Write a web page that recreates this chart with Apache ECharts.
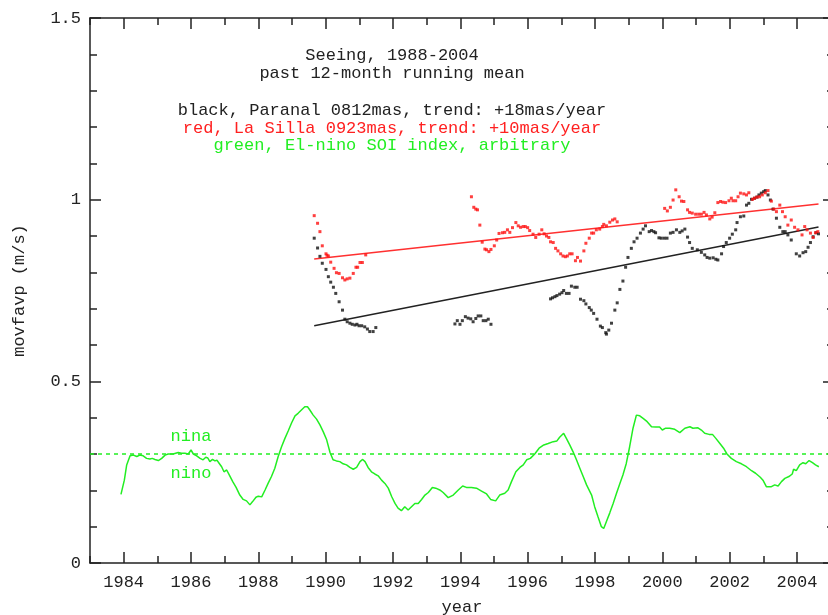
<!DOCTYPE html>
<html>
<head>
<meta charset="utf-8">
<script src="https://cdn.jsdelivr.net/npm/echarts@6/dist/echarts.min.js"></script>
<style>
  html, body { margin: 0; padding: 0; background: #fff; }
  #chart { width: 828px; height: 615px; }
</style>
</head>
<body>
<div id="chart"></div>
<script>
// Paranal seeing, past 12-month running mean [year, m/s]
const paranalSeeing = [
  [1989.66,0.894],[1989.76,0.867],[1989.83,0.844],[1989.90,0.825],[1990.01,0.808],[1990.08,0.788],
  [1990.15,0.773],[1990.23,0.759],[1990.30,0.742],[1990.40,0.719],[1990.50,0.696],[1990.57,0.671],
  [1990.64,0.664],[1990.72,0.660],[1990.79,0.657],[1990.87,0.655],[1990.93,0.657],[1990.99,0.653],
  [1991.07,0.653],[1991.16,0.650],[1991.24,0.644],[1991.31,0.637],[1991.41,0.637],[1991.49,0.648],
  [1993.84,0.658],[1993.91,0.667],[1993.99,0.657],[1994.06,0.667],[1994.15,0.678],[1994.23,0.674],
  [1994.31,0.672],[1994.38,0.664],[1994.46,0.673],[1994.53,0.680],[1994.61,0.680],[1994.68,0.667],
  [1994.76,0.667],[1994.83,0.671],[1994.91,0.657],
  [1996.68,0.727],[1996.74,0.730],[1996.81,0.733],[1996.87,0.736],[1996.95,0.740],[1997.02,0.744],
  [1997.07,0.750],[1997.15,0.742],[1997.23,0.742],[1997.30,0.762],[1997.40,0.759],[1997.47,0.759],
  [1997.57,0.726],[1997.67,0.722],[1997.73,0.713],[1997.83,0.703],[1997.89,0.696],[1997.96,0.687],
  [1998.06,0.671],[1998.16,0.652],[1998.22,0.648],[1998.32,0.634],[1998.34,0.630],[1998.41,0.641],
  [1998.49,0.660],[1998.59,0.696],[1998.66,0.716],[1998.74,0.753],[1998.83,0.776],[1998.91,0.814],
  [1998.98,0.841],[1999.08,0.866],[1999.16,0.884],[1999.25,0.894],[1999.35,0.908],[1999.43,0.919],
  [1999.50,0.928],[1999.61,0.912],[1999.68,0.915],[1999.75,0.912],[1999.80,0.909],[1999.90,0.895],
  [1999.97,0.894],[2000.06,0.894],[2000.14,0.894],[2000.24,0.908],[2000.32,0.910],[2000.42,0.917],
  [2000.52,0.910],[2000.59,0.914],[2000.67,0.919],[2000.75,0.897],[2000.81,0.882],[2000.89,0.866],
  [2001.04,0.862],[2001.16,0.855],[2001.26,0.848],[2001.33,0.841],[2001.41,0.839],[2001.51,0.840],
  [2001.59,0.836],[2001.65,0.834],[2001.76,0.851],[2001.82,0.871],[2001.90,0.882],[2002.00,0.894],
  [2002.08,0.905],[2002.18,0.917],[2002.22,0.937],[2002.32,0.953],[2002.42,0.955],[2002.50,0.985],
  [2002.57,0.990],[2002.65,1.001],[2002.74,1.004],[2002.81,1.007],[2002.87,1.013],[2002.94,1.018],
  [2003.01,1.022],[2003.06,1.025],[2003.14,1.013],[2003.21,0.999],[2003.29,0.974],[2003.39,0.949],
  [2003.49,0.924],[2003.58,0.912],[2003.65,0.912],[2003.73,0.903],[2003.83,0.889],[2003.98,0.851],
  [2004.08,0.845],[2004.18,0.854],[2004.26,0.857],[2004.33,0.869],[2004.40,0.882],[2004.48,0.898],
  [2004.57,0.909],[2004.64,0.906]
];

// La Silla seeing, past 12-month running mean [year, m/s]
const laSillaSeeing = [
  [1989.66,0.956],[1989.76,0.935],[1989.83,0.912],[1989.90,0.873],[1990.01,0.851],[1990.04,0.847],
  [1990.08,0.845],[1990.15,0.828],[1990.25,0.811],[1990.32,0.799],[1990.40,0.797],[1990.50,0.785],
  [1990.57,0.779],[1990.64,0.782],[1990.72,0.784],[1990.82,0.797],[1990.90,0.814],[1990.95,0.814],
  [1991.02,0.827],[1991.09,0.827],[1991.19,0.848],
  [1994.33,1.008],[1994.40,0.979],[1994.46,0.974],[1994.51,0.972],[1994.58,0.930],[1994.65,0.883],
  [1994.73,0.864],[1994.78,0.862],[1994.85,0.857],[1994.91,0.863],[1995.01,0.873],[1995.08,0.889],
  [1995.15,0.907],[1995.25,0.909],[1995.32,0.910],[1995.40,0.917],[1995.47,0.910],[1995.55,0.923],
  [1995.65,0.937],[1995.72,0.928],[1995.79,0.924],[1995.87,0.926],[1995.93,0.926],[1996.00,0.923],
  [1996.06,0.915],[1996.16,0.905],[1996.24,0.896],[1996.34,0.905],[1996.42,0.917],[1996.49,0.906],
  [1996.56,0.900],[1996.63,0.896],[1996.68,0.884],[1996.76,0.882],[1996.83,0.866],[1996.90,0.859],
  [1996.98,0.851],[1997.05,0.845],[1997.12,0.843],[1997.18,0.845],[1997.25,0.851],[1997.32,0.851],
  [1997.42,0.832],[1997.48,0.841],[1997.57,0.831],[1997.67,0.859],[1997.73,0.880],[1997.83,0.894],
  [1997.90,0.908],[1997.96,0.908],[1998.04,0.917],[1998.14,0.919],[1998.22,0.926],[1998.26,0.932],
  [1998.34,0.928],[1998.44,0.938],[1998.52,0.944],[1998.59,0.947],[1998.66,0.939],
  [2000.07,0.976],[2000.15,0.969],[2000.24,0.979],[2000.32,0.999],[2000.40,1.027],[2000.50,1.008],
  [2000.57,0.996],[2000.64,0.995],[2000.75,0.972],[2000.81,0.965],[2000.89,0.963],[2000.99,0.960],
  [2001.08,0.960],[2001.16,0.960],[2001.24,0.965],[2001.31,0.958],[2001.41,0.947],[2001.48,0.952],
  [2001.56,0.964],[2001.65,0.992],[2001.73,0.995],[2001.80,0.993],[2001.88,0.992],[2001.98,0.997],
  [2002.05,1.004],[2002.10,0.997],[2002.18,0.997],[2002.25,1.008],[2002.32,1.018],[2002.42,1.016],
  [2002.50,1.013],[2002.57,1.019],[2002.68,1.001],[2002.74,1.004],[2002.81,1.007],[2002.89,1.008],
  [2002.97,1.013],[2003.06,1.019],[2003.14,1.025],[2003.24,0.996],[2003.31,0.974],[2003.39,0.967],
  [2003.49,0.985],[2003.57,0.967],[2003.65,0.953],[2003.73,0.930],[2003.83,0.944],[2003.93,0.924],
  [2004.03,0.917],[2004.15,0.903],[2004.23,0.926],[2004.30,0.917],[2004.40,0.908],[2004.48,0.896],
  [2004.55,0.909],[2004.62,0.912]
];

// Linear trends over 1989.7-2004.6
const paranalTrend = [[1989.66, 0.653], [2004.64, 0.925]];
const laSillaTrend = [[1989.66, 0.837], [2004.64, 0.988]];

// El-nino SOI index, arbitrary scaling
const soiIndex = [
  [1983.92,0.189],[1984.02,0.228],[1984.09,0.270],[1984.19,0.295],[1984.29,0.297],[1984.39,0.293],
  [1984.48,0.297],[1984.58,0.295],[1984.68,0.288],[1984.78,0.286],[1984.85,0.288],[1984.93,0.285],
  [1985.03,0.282],[1985.13,0.288],[1985.23,0.297],[1985.32,0.300],[1985.47,0.300],[1985.62,0.304],
  [1985.72,0.302],[1985.82,0.302],[1985.92,0.300],[1986.00,0.311],[1986.07,0.300],[1986.17,0.295],
  [1986.27,0.288],[1986.36,0.284],[1986.44,0.291],[1986.50,0.289],[1986.56,0.279],[1986.64,0.285],
  [1986.71,0.281],[1986.77,0.283],[1986.84,0.274],[1986.91,0.265],[1986.98,0.251],[1987.06,0.256],
  [1987.14,0.242],[1987.24,0.224],[1987.34,0.208],[1987.45,0.187],[1987.55,0.175],[1987.65,0.171],
  [1987.75,0.160],[1987.83,0.169],[1987.93,0.181],[1988.00,0.184],[1988.10,0.182],[1988.20,0.201],
  [1988.29,0.219],[1988.39,0.238],[1988.49,0.261],[1988.59,0.293],[1988.69,0.320],[1988.79,0.343],
  [1988.89,0.364],[1988.99,0.386],[1989.09,0.405],[1989.18,0.412],[1989.28,0.421],[1989.38,0.430],
  [1989.46,0.430],[1989.53,0.421],[1989.63,0.407],[1989.73,0.396],[1989.83,0.380],[1989.93,0.361],
  [1990.03,0.339],[1990.13,0.304],[1990.22,0.284],[1990.32,0.281],[1990.42,0.279],[1990.52,0.273],
  [1990.62,0.270],[1990.72,0.263],[1990.82,0.258],[1990.92,0.263],[1991.02,0.279],[1991.10,0.285],
  [1991.17,0.279],[1991.26,0.263],[1991.36,0.251],[1991.46,0.245],[1991.56,0.240],[1991.66,0.228],
  [1991.76,0.219],[1991.86,0.206],[1991.96,0.183],[1992.06,0.164],[1992.15,0.151],[1992.25,0.144],
  [1992.35,0.155],[1992.45,0.146],[1992.55,0.155],[1992.65,0.164],[1992.75,0.164],[1992.85,0.175],
  [1992.95,0.187],[1993.05,0.194],[1993.17,0.208],[1993.27,0.206],[1993.39,0.201],[1993.49,0.194],
  [1993.64,0.180],[1993.79,0.187],[1993.94,0.201],[1994.07,0.212],[1994.18,0.208],[1994.33,0.208],
  [1994.48,0.206],[1994.63,0.198],[1994.78,0.190],[1994.90,0.175],[1995.05,0.171],[1995.17,0.187],
  [1995.32,0.192],[1995.42,0.201],[1995.52,0.224],[1995.65,0.251],[1995.77,0.263],[1995.87,0.270],
  [1995.97,0.284],[1996.08,0.288],[1996.21,0.300],[1996.34,0.316],[1996.48,0.325],[1996.61,0.329],
  [1996.76,0.334],[1996.87,0.336],[1996.95,0.346],[1997.07,0.357],[1997.15,0.343],[1997.25,0.325],
  [1997.35,0.306],[1997.45,0.284],[1997.55,0.261],[1997.65,0.238],[1997.75,0.215],[1997.90,0.187],
  [1997.99,0.155],[1998.09,0.127],[1998.19,0.100],[1998.26,0.095],[1998.34,0.114],[1998.44,0.138],
  [1998.54,0.164],[1998.64,0.192],[1998.74,0.219],[1998.83,0.242],[1998.93,0.274],[1999.03,0.320],
  [1999.13,0.371],[1999.23,0.407],[1999.33,0.405],[1999.43,0.398],[1999.55,0.389],[1999.68,0.375],
  [1999.81,0.374],[1999.92,0.374],[2000.00,0.366],[2000.10,0.371],[2000.22,0.371],[2000.37,0.368],
  [2000.52,0.359],[2000.67,0.371],[2000.82,0.375],[2000.91,0.371],[2001.06,0.372],[2001.16,0.366],
  [2001.26,0.357],[2001.39,0.354],[2001.49,0.354],[2001.59,0.343],[2001.71,0.329],[2001.82,0.316],
  [2001.92,0.300],[2002.05,0.288],[2002.20,0.279],[2002.35,0.273],[2002.50,0.265],[2002.65,0.254],
  [2002.77,0.247],[2002.91,0.236],[2002.99,0.228],[2003.09,0.210],[2003.24,0.210],[2003.34,0.215],
  [2003.44,0.212],[2003.54,0.224],[2003.64,0.233],[2003.76,0.238],[2003.86,0.245],[2003.90,0.258],
  [2003.98,0.254],[2004.08,0.270],[2004.18,0.276],[2004.26,0.273],[2004.36,0.282],[2004.46,0.276],
  [2004.55,0.270],[2004.65,0.265]
];

// SOI zero level and its labels
const soiZeroLevel = 0.3;
const soiLabels = [
  { name: 'nina', coord: [1986, 0.347] },
  { name: 'nino', coord: [1986, 0.245] }
];

// Labelled year ticks
const yearTicks = [1984, 1986, 1988, 1990, 1992, 1994, 1996, 1998, 2000, 2002, 2004];

// Heading lines
const headingLines = [
  { text: 'Seeing, 1988-2004', color: '#222222' },
  { text: 'past 12-month running mean', color: '#222222' },
  { text: 'black, Paranal 0812mas, trend: +18mas/year', color: '#222222' },
  { text: 'red, La Silla 0923mas, trend: +10mas/year', color: '#ff2020' },
  { text: 'green, El-nino SOI index, arbitrary', color: '#22ee22' }
];

const FONT = '"Liberation Mono", "DejaVu Sans Mono", monospace';
const INK = '#222222';
const RED = '#ff2020';
const GREEN = '#22ee22';
const X_MIN = 1983, X_MAX = 2005.1;

const axisLine = { show: true, lineStyle: { color: INK, width: 1.5 } };

function yearAxis(position, major, withLabels) {
  const axis = {
    type: 'value', position: position, min: X_MIN, max: X_MAX,
    splitLine: { show: false },
    axisLine: major ? axisLine : { show: false },
    axisTick: {
      show: true, inside: true, length: major ? 11 : 7,
      lineStyle: { color: INK, width: 1.5 }
    },
    axisLabel: { show: false }
  };
  if (major) {
    axis.axisTick.customValues = yearTicks;
    axis.axisLabel = withLabels ? {
      show: true, customValues: yearTicks, margin: 11,
      color: INK, fontFamily: FONT, fontSize: 17,
      formatter: function (v) { return String(Math.round(v)); }
    } : { show: false };
  } else {
    axis.interval = 1;
  }
  return axis;
}

const xAxes = [
  Object.assign(yearAxis('bottom', true, true), {
    name: 'year', nameLocation: 'middle', nameGap: 36,
    nameTextStyle: { color: INK, fontFamily: FONT, fontSize: 17 }
  }),
  yearAxis('bottom', false, false),
  yearAxis('top', true, false),
  yearAxis('top', false, false)
];

function valueAxis(position, withLabels) {
  return {
    type: 'value', position: position, min: 0, max: 1.5, interval: 0.5,
    splitLine: { show: false },
    axisLine: axisLine,
    axisTick: { show: true, inside: true, length: 11, lineStyle: { color: INK, width: 1.5 } },
    minorTick: { show: true, splitNumber: 5, length: 7, lineStyle: { color: INK, width: 1.5 } },
    axisLabel: withLabels ? {
      show: true, margin: 9, color: INK, fontFamily: FONT, fontSize: 17
    } : { show: false }
  };
}

const yAxes = [
  Object.assign(valueAxis('left', true), {
    name: 'movfavp (m/s)', nameLocation: 'middle', nameGap: 62, nameRotate: 90,
    nameTextStyle: { color: INK, fontFamily: FONT, fontSize: 17 }
  }),
  valueAxis('right', false)
];

const chart = echarts.init(document.getElementById('chart'), null, { renderer: 'canvas' });

chart.setOption({
  animation: false,
  backgroundColor: '#ffffff',
  grid: { left: 90, right: -6, top: 18, bottom: 52, containLabel: false, outerBoundsMode: 'none' },
  xAxis: xAxes,
  yAxis: yAxes,
  graphic: headingLines.map(function (line, i) {
    const ys = [55, 73, 110, 128, 145];
    return {
      type: 'text', x: 392, y: ys[i], silent: true,
      style: {
        text: line.text, fill: line.color, font: '17px ' + FONT,
        textAlign: 'center', textVerticalAlign: 'middle'
      }
    };
  }),
  series: [
    {
      name: 'SOI', type: 'line', data: soiIndex, showSymbol: false,
      lineStyle: { color: GREEN, width: 1.5 }, z: 2,
      markLine: {
        silent: true, symbol: 'none', label: { show: false },
        lineStyle: { color: GREEN, type: [4, 4], width: 1.5 },
        data: [{ yAxis: soiZeroLevel }]
      },
      markPoint: {
        silent: true, symbol: 'rect', symbolSize: 0,
        label: { show: true, position: 'inside', formatter: '{b}', color: GREEN, fontFamily: FONT, fontSize: 17 },
        data: soiLabels
      }
    },
    {
      name: 'Paranal trend', type: 'line', data: paranalTrend, showSymbol: false,
      lineStyle: { color: '#222222', width: 1.5 }, z: 3
    },
    {
      name: 'La Silla trend', type: 'line', data: laSillaTrend, showSymbol: false,
      lineStyle: { color: '#ff3030', width: 1.5 }, z: 3
    },
    {
      name: 'Paranal', type: 'scatter', data: paranalSeeing,
      symbol: 'rect', symbolSize: 3, itemStyle: { color: '#111111' }, z: 4
    },
    {
      name: 'La Silla', type: 'scatter', data: laSillaSeeing,
      symbol: 'rect', symbolSize: 3, itemStyle: { color: '#ff1010' }, z: 4
    }
  ]
});
</script>
</body>
</html>
